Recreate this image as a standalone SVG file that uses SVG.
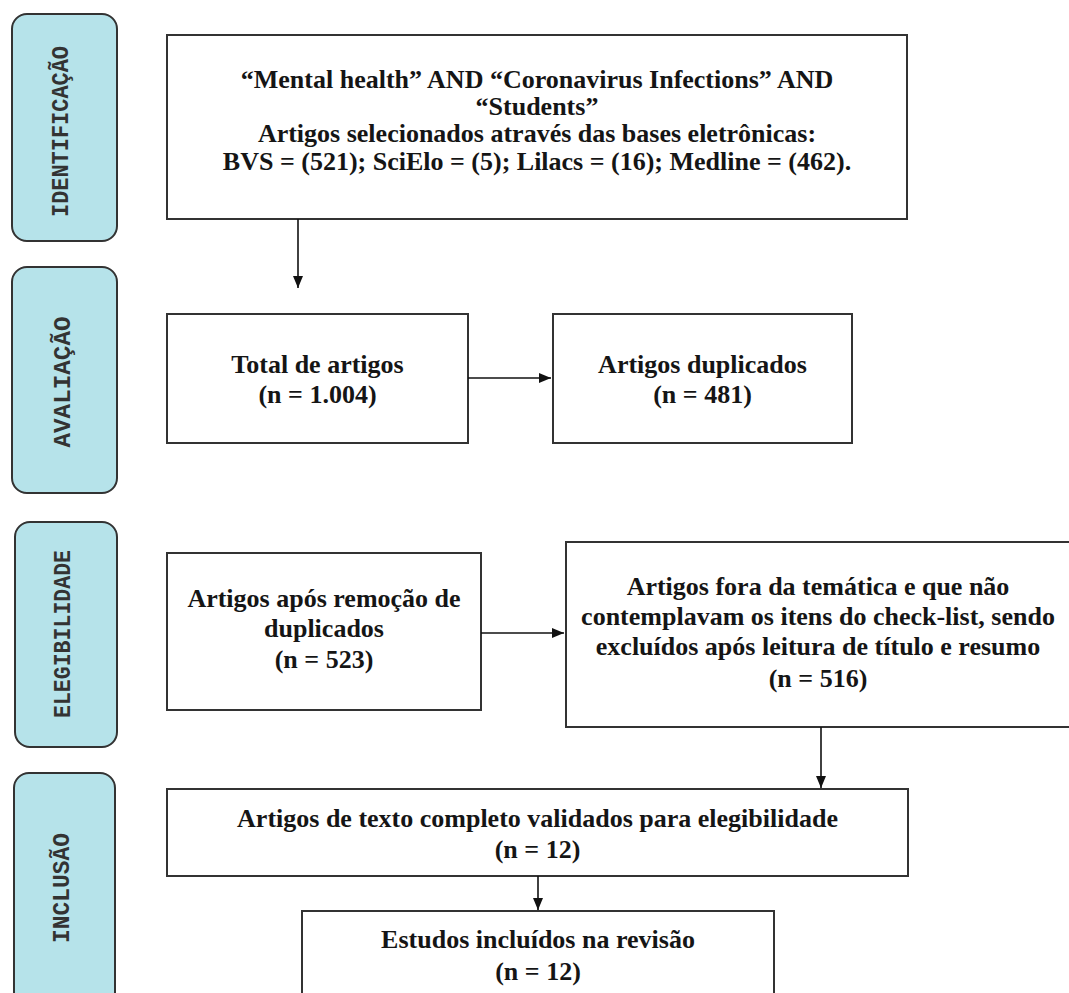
<svg xmlns="http://www.w3.org/2000/svg" width="1069" height="993" viewBox="0 0 1069 993">
  <style>
    .lbl { fill: #b6e3ea; stroke: #333; stroke-width: 2; }
    .lbltxt { font-family: "Liberation Mono", "Courier New", monospace; font-weight: bold; font-size: 23px; fill: #333; text-anchor: middle; }
    .box { fill: #fff; stroke: #333; stroke-width: 2; }
    .t { font-family: "Liberation Serif", "Times New Roman", serif; font-weight: bold; font-size: 26px; fill: #151515; text-anchor: middle; }
    .conn { stroke: #111; stroke-width: 1.6; fill: none; marker-end: url(#ah); }
  </style>
  <defs>
    <marker id="ah" markerUnits="userSpaceOnUse" markerWidth="12" markerHeight="12" refX="12" refY="5" orient="auto">
      <path d="M0,0 L12,5 L0,10 z" fill="#111"/>
    </marker>
  </defs>
  <rect width="1069" height="993" fill="#fff"/>

  <g id="label-identificacao">
    <rect class="lbl" x="12" y="14" width="105" height="227" rx="15"/>
    <text class="lbltxt" transform="translate(68,131.5) rotate(-90)" textLength="171" lengthAdjust="spacingAndGlyphs">IDENTIFICAÇÃO</text>
  </g>
  <g id="label-avaliacao">
    <rect class="lbl" x="12" y="267" width="105" height="226" rx="15"/>
    <text class="lbltxt" transform="translate(70,382) rotate(-90)" textLength="131" lengthAdjust="spacingAndGlyphs">AVALIAÇÃO</text>
  </g>
  <g id="label-elegibilidade">
    <rect class="lbl" x="15" y="522" width="102" height="225" rx="15"/>
    <text class="lbltxt" transform="translate(70,634) rotate(-90)" textLength="168" lengthAdjust="spacingAndGlyphs">ELEGIBILIDADE</text>
  </g>
  <g id="label-inclusao">
    <rect class="lbl" x="14" y="773" width="101" height="240" rx="15"/>
    <text class="lbltxt" transform="translate(69,888) rotate(-90)" textLength="110" lengthAdjust="spacingAndGlyphs">INCLUSÃO</text>
  </g>

  <g id="node-busca">
    <rect class="box" x="167" y="35" width="740" height="184"/>
    <text class="t" x="537" y="88">“Mental health” AND “Coronavirus Infections” AND</text>
    <text class="t" x="537" y="115">“Students”</text>
    <text class="t" x="537" y="142">Artigos selecionados através das bases eletrônicas:</text>
    <text class="t" x="537" y="170">BVS = (521); SciElo = (5); Lilacs = (16); Medline = (462).</text>
  </g>

  <g id="node-total">
    <rect class="box" x="167" y="314" width="301" height="129"/>
    <text class="t" x="317.5" y="373">Total de artigos</text>
    <text class="t" x="317.5" y="403">(n = 1.004)</text>
  </g>

  <g id="node-duplicados">
    <rect class="box" x="553" y="314" width="299" height="129"/>
    <text class="t" x="702.5" y="373">Artigos duplicados</text>
    <text class="t" x="702.5" y="403">(n = 481)</text>
  </g>

  <g id="node-apos-remocao">
    <rect class="box" x="167" y="553" width="314" height="157"/>
    <text class="t" x="324" y="607">Artigos após remoção de</text>
    <text class="t" x="324" y="637">duplicados</text>
    <text class="t" x="324" y="668">(n = 523)</text>
  </g>

  <g id="node-excluidos">
    <rect class="box" x="566" y="542" width="506" height="185"/>
    <text class="t" x="818" y="595">Artigos fora da temática e que não</text>
    <text class="t" x="818" y="625">contemplavam os itens do check-list, sendo</text>
    <text class="t" x="818" y="655">excluídos após leitura de título e resumo</text>
    <text class="t" x="818" y="687">(n = 516)</text>
  </g>

  <g id="node-validados">
    <rect class="box" x="167" y="789" width="741" height="87"/>
    <text class="t" x="537.5" y="827">Artigos de texto completo validados para elegibilidade</text>
    <text class="t" x="537.5" y="858">(n = 12)</text>
  </g>

  <g id="node-incluidos">
    <rect class="box" x="302" y="911" width="472" height="100"/>
    <text class="t" x="538" y="948">Estudos incluídos na revisão</text>
    <text class="t" x="538" y="980">(n = 12)</text>
  </g>

  <g id="connectors">
    <line class="conn" x1="298" y1="219" x2="298" y2="288"/>
    <line class="conn" x1="468" y1="378" x2="551" y2="378"/>
    <line class="conn" x1="481" y1="633" x2="564" y2="633"/>
    <line class="conn" x1="821" y1="727" x2="821" y2="788"/>
    <line class="conn" x1="538" y1="876" x2="538" y2="910"/>
  </g>
</svg>
